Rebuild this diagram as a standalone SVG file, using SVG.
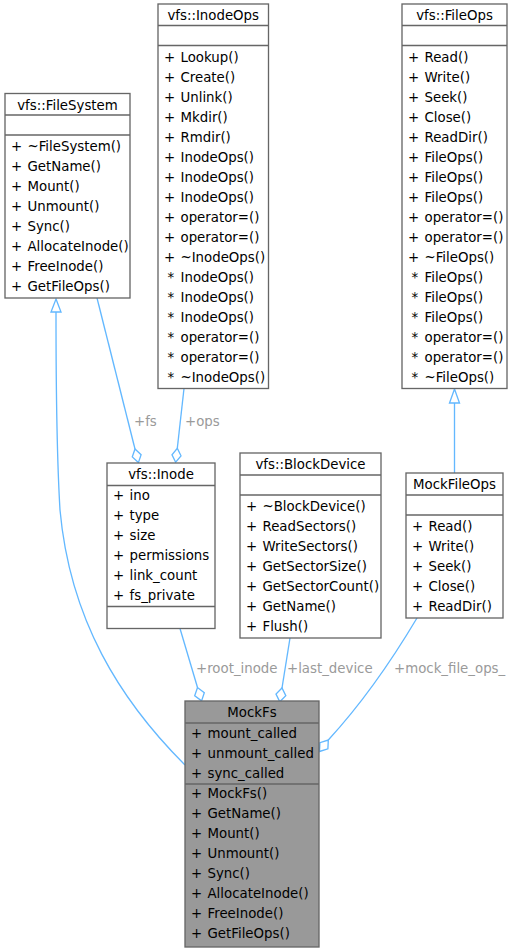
<svg xmlns="http://www.w3.org/2000/svg" width="513" height="952" viewBox="0 0 513 952">
<style>
.n rect{fill:#ffffff;stroke:#666666;stroke-width:1.33}
.n.m rect{fill:#999999}
.n line{stroke:#666666;stroke-width:1.33}
text{font-family:"DejaVu Sans","Liberation Sans",sans-serif;font-size:13.33px;fill:#000000}
.c{text-anchor:middle}
.e path{fill:none;stroke:#63b8ff;stroke-width:1.33}
.e polygon{fill:none;stroke:#63b8ff;stroke-width:1.33}
.l{font-size:13.33px;fill:#9a9a9a}
</style>
<rect width="513" height="952" fill="#ffffff"/>

<g id="edges" class="e">
<path d="M56,312 C56,400 57,460 60,510 C70,620 120,700 185,765"/>
<polygon points="56,299 61,312 51,312"/>
<path d="M97,298 L135,449"/>
<polygon points="138.4,462.6 141.1,454.7 135,449 132.3,456.9"/>
<text class="l" x="134" y="426">+fs</text>
<path d="M184,388.5 L177.3,448.3"/>
<polygon points="175.7,462.2 181,455.8 177.3,448.3 172,454.8"/>
<text class="l" x="185" y="426">+ops</text>
<path d="M180,628.5 L197.5,687.5"/>
<polygon points="201.6,700.9 204.3,692.7 197.5,687.5 194.7,695.7"/>
<text class="l" x="196" y="673">+root_inode</text>
<path d="M290,638 L282,688"/>
<polygon points="279.8,701.8 285.8,695.7 282,688 276,694.1"/>
<text class="l" x="287" y="673">+last_device</text>
<path d="M417,618 C395,655 365,700 328.3,740"/>
<polygon points="319.5,751.5 327.9,748.8 328.3,740 319.9,742.7"/>
<text class="l" x="394" y="673">+mock_file_ops_</text>
<path d="M454.5,403 L454.5,473"/>
<polygon points="454.5,389 459.5,403 449.5,403"/>
</g>

<g id="vfs_FileSystem" class="n">
<rect x="5" y="93.5" width="125" height="204.5"/>
<line x1="5" y1="115" x2="130" y2="115"/>
<line x1="5" y1="135" x2="130" y2="135"/>
<text class="c" x="67.5" y="109.5">vfs::FileSystem</text>
<text y="151"><tspan x="11">+</tspan><tspan x="27.5">~FileSystem()</tspan></text>
<text y="171"><tspan x="11">+</tspan><tspan x="27.5">GetName()</tspan></text>
<text y="191"><tspan x="11">+</tspan><tspan x="27.5">Mount()</tspan></text>
<text y="211"><tspan x="11">+</tspan><tspan x="27.5">Unmount()</tspan></text>
<text y="231"><tspan x="11">+</tspan><tspan x="27.5">Sync()</tspan></text>
<text y="251"><tspan x="11">+</tspan><tspan x="27.5">AllocateInode()</tspan></text>
<text y="271"><tspan x="11">+</tspan><tspan x="27.5">FreeInode()</tspan></text>
<text y="291"><tspan x="11">+</tspan><tspan x="27.5">GetFileOps()</tspan></text>
</g>

<g id="vfs_InodeOps" class="n">
<rect x="158" y="4" width="110.5" height="384.5"/>
<line x1="158" y1="25.5" x2="268.5" y2="25.5"/>
<line x1="158" y1="45.5" x2="268.5" y2="45.5"/>
<text class="c" x="213.2" y="20">vfs::InodeOps</text>
<text y="62"><tspan x="164">+</tspan><tspan x="180.5">Lookup()</tspan></text>
<text y="82"><tspan x="164">+</tspan><tspan x="180.5">Create()</tspan></text>
<text y="102"><tspan x="164">+</tspan><tspan x="180.5">Unlink()</tspan></text>
<text y="122"><tspan x="164">+</tspan><tspan x="180.5">Mkdir()</tspan></text>
<text y="142"><tspan x="164">+</tspan><tspan x="180.5">Rmdir()</tspan></text>
<text y="162"><tspan x="164">+</tspan><tspan x="180.5">InodeOps()</tspan></text>
<text y="182"><tspan x="164">+</tspan><tspan x="180.5">InodeOps()</tspan></text>
<text y="202"><tspan x="164">+</tspan><tspan x="180.5">InodeOps()</tspan></text>
<text y="222"><tspan x="164">+</tspan><tspan x="180.5">operator=()</tspan></text>
<text y="242"><tspan x="164">+</tspan><tspan x="180.5">operator=()</tspan></text>
<text y="262"><tspan x="164">+</tspan><tspan x="180.5">~InodeOps()</tspan></text>
<text y="282"><tspan x="167.5">*</tspan><tspan x="180.5">InodeOps()</tspan></text>
<text y="302"><tspan x="167.5">*</tspan><tspan x="180.5">InodeOps()</tspan></text>
<text y="322"><tspan x="167.5">*</tspan><tspan x="180.5">InodeOps()</tspan></text>
<text y="342"><tspan x="167.5">*</tspan><tspan x="180.5">operator=()</tspan></text>
<text y="362"><tspan x="167.5">*</tspan><tspan x="180.5">operator=()</tspan></text>
<text y="382"><tspan x="167.5">*</tspan><tspan x="180.5">~InodeOps()</tspan></text>
</g>

<g id="vfs_FileOps" class="n">
<rect x="402" y="4" width="105" height="384.5"/>
<line x1="402" y1="25.5" x2="507" y2="25.5"/>
<line x1="402" y1="45.5" x2="507" y2="45.5"/>
<text class="c" x="454.5" y="20">vfs::FileOps</text>
<text y="62"><tspan x="408">+</tspan><tspan x="424.5">Read()</tspan></text>
<text y="82"><tspan x="408">+</tspan><tspan x="424.5">Write()</tspan></text>
<text y="102"><tspan x="408">+</tspan><tspan x="424.5">Seek()</tspan></text>
<text y="122"><tspan x="408">+</tspan><tspan x="424.5">Close()</tspan></text>
<text y="142"><tspan x="408">+</tspan><tspan x="424.5">ReadDir()</tspan></text>
<text y="162"><tspan x="408">+</tspan><tspan x="424.5">FileOps()</tspan></text>
<text y="182"><tspan x="408">+</tspan><tspan x="424.5">FileOps()</tspan></text>
<text y="202"><tspan x="408">+</tspan><tspan x="424.5">FileOps()</tspan></text>
<text y="222"><tspan x="408">+</tspan><tspan x="424.5">operator=()</tspan></text>
<text y="242"><tspan x="408">+</tspan><tspan x="424.5">operator=()</tspan></text>
<text y="262"><tspan x="408">+</tspan><tspan x="424.5">~FileOps()</tspan></text>
<text y="282"><tspan x="411.5">*</tspan><tspan x="424.5">FileOps()</tspan></text>
<text y="302"><tspan x="411.5">*</tspan><tspan x="424.5">FileOps()</tspan></text>
<text y="322"><tspan x="411.5">*</tspan><tspan x="424.5">FileOps()</tspan></text>
<text y="342"><tspan x="411.5">*</tspan><tspan x="424.5">operator=()</tspan></text>
<text y="362"><tspan x="411.5">*</tspan><tspan x="424.5">operator=()</tspan></text>
<text y="382"><tspan x="411.5">*</tspan><tspan x="424.5">~FileOps()</tspan></text>
</g>

<g id="vfs_Inode" class="n">
<rect x="107" y="463" width="108" height="165.5"/>
<line x1="107" y1="485.5" x2="215" y2="485.5"/>
<line x1="107" y1="606.5" x2="215" y2="606.5"/>
<text class="c" x="161" y="479">vfs::Inode</text>
<text y="500"><tspan x="113">+</tspan><tspan x="129.5">ino</tspan></text>
<text y="520"><tspan x="113">+</tspan><tspan x="129.5">type</tspan></text>
<text y="540"><tspan x="113">+</tspan><tspan x="129.5">size</tspan></text>
<text y="560"><tspan x="113">+</tspan><tspan x="129.5">permissions</tspan></text>
<text y="580"><tspan x="113">+</tspan><tspan x="129.5">link_count</tspan></text>
<text y="600"><tspan x="113">+</tspan><tspan x="129.5">fs_private</tspan></text>
</g>

<g id="vfs_BlockDevice" class="n">
<rect x="240" y="453" width="141" height="185"/>
<line x1="240" y1="475" x2="381" y2="475"/>
<line x1="240" y1="495" x2="381" y2="495"/>
<text class="c" x="310.5" y="469">vfs::BlockDevice</text>
<text y="511"><tspan x="246">+</tspan><tspan x="262.5">~BlockDevice()</tspan></text>
<text y="531"><tspan x="246">+</tspan><tspan x="262.5">ReadSectors()</tspan></text>
<text y="551"><tspan x="246">+</tspan><tspan x="262.5">WriteSectors()</tspan></text>
<text y="571"><tspan x="246">+</tspan><tspan x="262.5">GetSectorSize()</tspan></text>
<text y="591"><tspan x="246">+</tspan><tspan x="262.5">GetSectorCount()</tspan></text>
<text y="611"><tspan x="246">+</tspan><tspan x="262.5">GetName()</tspan></text>
<text y="631"><tspan x="246">+</tspan><tspan x="262.5">Flush()</tspan></text>
</g>

<g id="MockFileOps" class="n">
<rect x="406" y="473" width="97" height="145"/>
<line x1="406" y1="495" x2="503" y2="495"/>
<line x1="406" y1="515" x2="503" y2="515"/>
<text class="c" x="454.5" y="489">MockFileOps</text>
<text y="531"><tspan x="412">+</tspan><tspan x="428.5">Read()</tspan></text>
<text y="551"><tspan x="412">+</tspan><tspan x="428.5">Write()</tspan></text>
<text y="571"><tspan x="412">+</tspan><tspan x="428.5">Seek()</tspan></text>
<text y="591"><tspan x="412">+</tspan><tspan x="428.5">Close()</tspan></text>
<text y="611"><tspan x="412">+</tspan><tspan x="428.5">ReadDir()</tspan></text>
</g>

<g id="MockFs" class="n m">
<rect x="185" y="701" width="134" height="246"/>
<line x1="185" y1="723" x2="319" y2="723"/>
<line x1="185" y1="784" x2="319" y2="784"/>
<text class="c" x="252" y="717">MockFs</text>
<text y="738"><tspan x="191">+</tspan><tspan x="207.5">mount_called</tspan></text>
<text y="758"><tspan x="191">+</tspan><tspan x="207.5">unmount_called</tspan></text>
<text y="778"><tspan x="191">+</tspan><tspan x="207.5">sync_called</tspan></text>
<text y="798"><tspan x="191">+</tspan><tspan x="207.5">MockFs()</tspan></text>
<text y="818"><tspan x="191">+</tspan><tspan x="207.5">GetName()</tspan></text>
<text y="838"><tspan x="191">+</tspan><tspan x="207.5">Mount()</tspan></text>
<text y="858"><tspan x="191">+</tspan><tspan x="207.5">Unmount()</tspan></text>
<text y="878"><tspan x="191">+</tspan><tspan x="207.5">Sync()</tspan></text>
<text y="898"><tspan x="191">+</tspan><tspan x="207.5">AllocateInode()</tspan></text>
<text y="918"><tspan x="191">+</tspan><tspan x="207.5">FreeInode()</tspan></text>
<text y="938"><tspan x="191">+</tspan><tspan x="207.5">GetFileOps()</tspan></text>
</g>
</svg>
